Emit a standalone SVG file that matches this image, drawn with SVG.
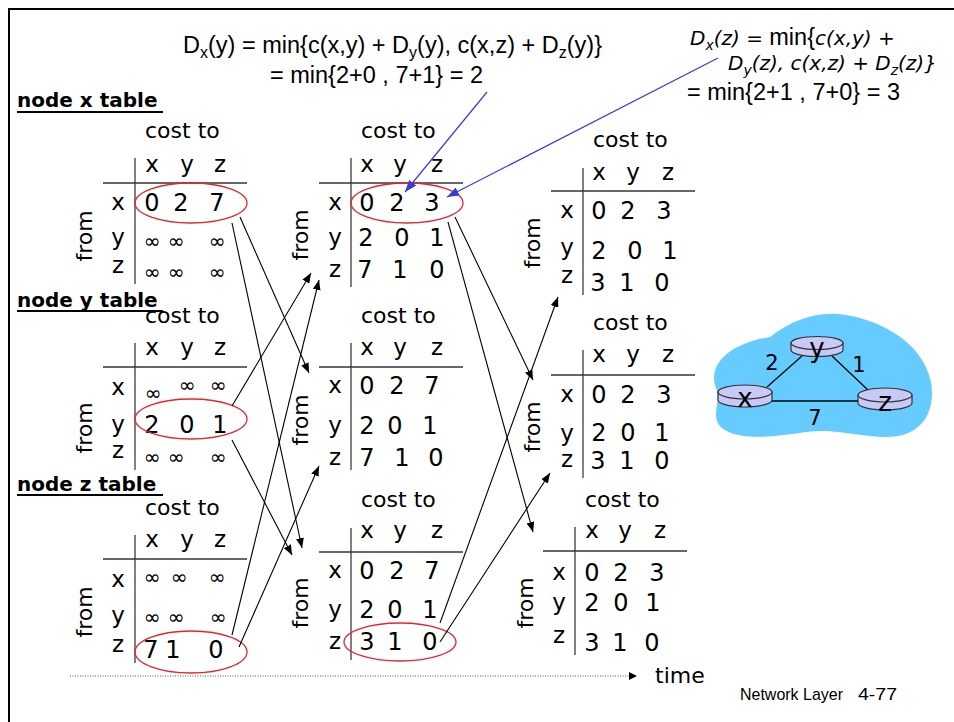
<svg xmlns="http://www.w3.org/2000/svg" width="954" height="722" viewBox="0 0 954 722">
<defs>
<style>
text{font-family:"DejaVu Sans",sans-serif;fill:#000}
.ttl{font-size:20px;font-weight:bold}
.ct{font-size:22px}
.h{font-size:23px;text-anchor:middle}
.v{font-size:24px;text-anchor:middle}
.inf{font-size:20px;text-anchor:middle}
.fr{font-size:22px;text-anchor:middle}
.ar{font-family:"Liberation Sans",Arial,sans-serif;font-size:23.5px}
.it{font-family:"DejaVu Sans",sans-serif;font-style:italic;font-size:20px}
.vl{stroke:#808080;stroke-width:2}
.hl{stroke:#333;stroke-width:1.3}
.ul{stroke:#000;stroke-width:2}
.el{fill:none;stroke:#E3262E;stroke-width:1.3}
.cn{stroke:#000;stroke-width:1.1;fill:none;marker-end:url(#ah)}
.bc{stroke:#3A3AD8;stroke-width:1.2;fill:none;marker-end:url(#bh)}
.rt{fill:#C9C9F7;stroke:#333;stroke-width:1.2}
.lk{stroke:#000;stroke-width:1.3}
.nl{font-size:26px;text-anchor:middle}
.wl{font-size:21px;text-anchor:middle}
.ft{font-family:"Liberation Sans",Arial,sans-serif;font-size:17px}
</style>
<marker id="ah" markerUnits="userSpaceOnUse" markerWidth="10" markerHeight="8" refX="10" refY="4" orient="auto"><path d="M0,0 L10,4 L0,8 z" fill="#000"/></marker>
<marker id="bh" markerUnits="userSpaceOnUse" markerWidth="12" markerHeight="9" refX="12" refY="4.5" orient="auto"><path d="M0,0 L12,4.5 L0,9 z" fill="#3A3AD8"/></marker>
</defs>
<rect width="954" height="722" fill="#fff"/>
<g id="frame">
<line x1="8" y1="9" x2="954" y2="9" stroke="#000" stroke-width="2"/>
<line x1="9" y1="8" x2="9" y2="722" stroke="#000" stroke-width="2"/>
</g>

<g id="formula-y">
<text class="ar" x="183" y="53">D<tspan font-size="16" dy="5">x</tspan><tspan dy="-5">(y) = min{c(x,y) + D</tspan><tspan font-size="16" dy="5">y</tspan><tspan dy="-5">(y), c(x,z) + D</tspan><tspan font-size="16" dy="5">z</tspan><tspan dy="-5">(y)}</tspan></text>
<text class="ar" x="270" y="83">= min{2+0 , 7+1} = 2</text>
</g>
<g id="formula-z">
<text class="it" x="690" y="45">D<tspan font-size="14" dy="5">x</tspan><tspan dy="-5">(z) = </tspan><tspan class="ar" font-style="normal" font-size="22">min{</tspan><tspan>c(x,y) +</tspan></text>
<text class="it" x="728" y="70" font-size="21">D<tspan font-size="14" dy="5">y</tspan><tspan dy="-5">(z), c(x,z) + D</tspan><tspan font-size="14" dy="5">z</tspan><tspan dy="-5">(z)}</tspan></text>
<text class="ar" x="687" y="100">= min{2+1 , 7+0} = 3</text>
</g>

<g id="node-x-table">
<text class="ttl" x="17" y="107">node x table</text>
<line class="ul" x1="17" y1="112" x2="163" y2="112"/>
<text class="ct" x="145" y="138">cost to</text>
<text class="h" x="152" y="172">x</text><text class="h" x="187" y="172">y</text><text class="h" x="220" y="172">z</text>
<line class="vl" x1="135" y1="158" x2="135" y2="284"/>
<line class="hl" x1="103" y1="183" x2="247" y2="183"/>
<text class="h" x="118" y="210">x</text><text class="h" x="118" y="245">y</text><text class="h" x="118" y="273">z</text>
<text class="v" x="152" y="211">0</text><text class="v" x="181" y="211">2</text><text class="v" x="217" y="211">7</text>
<text class="inf" x="152" y="248">∞</text><text class="inf" x="176" y="248">∞</text><text class="inf" x="217" y="248">∞</text>
<text class="inf" x="152" y="279">∞</text><text class="inf" x="176" y="279">∞</text><text class="inf" x="217" y="279">∞</text>
<text class="fr" transform="translate(92,236) rotate(-90)">from</text>
<ellipse class="el" cx="191" cy="203" rx="56" ry="20"/>
</g>

<g id="node-y-table">
<text class="ttl" x="17" y="307">node y table</text>
<line class="ul" x1="17" y1="311" x2="163" y2="311"/>
<text class="ct" x="145" y="323">cost to</text>
<text class="h" x="152" y="355">x</text><text class="h" x="187" y="355">y</text><text class="h" x="220" y="355">z</text>
<line class="vl" x1="135" y1="343" x2="135" y2="470"/>
<line class="hl" x1="103" y1="367" x2="247" y2="367"/>
<text class="h" x="118" y="395">x</text><text class="h" x="118" y="432">y</text><text class="h" x="118" y="458">z</text>
<text class="inf" x="153" y="400">∞</text><text class="inf" x="187" y="392">∞</text><text class="inf" x="218" y="392">∞</text>
<text class="v" x="152" y="433">2</text><text class="v" x="187" y="433">0</text><text class="v" x="220" y="433">1</text>
<text class="inf" x="152" y="464">∞</text><text class="inf" x="176" y="464">∞</text><text class="inf" x="218" y="464">∞</text>
<text class="fr" transform="translate(92,428) rotate(-90)">from</text>
<ellipse class="el" cx="191" cy="419" rx="56" ry="20"/>
</g>

<g id="node-z-table">
<text class="ttl" x="17" y="491">node z table</text>
<line class="ul" x1="17" y1="495" x2="163" y2="495"/>
<text class="ct" x="145" y="515">cost to</text>
<text class="h" x="152" y="547">x</text><text class="h" x="187" y="547">y</text><text class="h" x="220" y="547">z</text>
<line class="vl" x1="135" y1="535" x2="135" y2="663"/>
<line class="hl" x1="103" y1="559" x2="247" y2="559"/>
<text class="h" x="118" y="587">x</text><text class="h" x="118" y="623">y</text><text class="h" x="118" y="652">z</text>
<text class="inf" x="152" y="584">∞</text><text class="inf" x="179" y="584">∞</text><text class="inf" x="217" y="584">∞</text>
<text class="inf" x="152" y="624">∞</text><text class="inf" x="176" y="624">∞</text><text class="inf" x="218" y="624">∞</text>
<text class="v" x="151" y="658">7</text><text class="v" x="173" y="658">1</text><text class="v" x="216" y="658">0</text>
<text class="fr" transform="translate(92,612) rotate(-90)">from</text>
<ellipse class="el" cx="191" cy="652" rx="56" ry="21"/>
</g>

<g id="x-table-t1">
<text class="ct" x="361" y="138">cost to</text>
<text class="h" x="367" y="172">x</text><text class="h" x="400" y="172">y</text><text class="h" x="437" y="172">z</text>
<line class="vl" x1="351" y1="158" x2="351" y2="287"/>
<line class="hl" x1="319" y1="183" x2="463" y2="183"/>
<text class="h" x="335" y="210">x</text><text class="h" x="335" y="245">y</text><text class="h" x="335" y="277">z</text>
<text class="v" x="367" y="211">0</text><text class="v" x="397" y="211">2</text><text class="v" x="432" y="211">3</text>
<text class="v" x="366" y="246">2</text><text class="v" x="402" y="246">0</text><text class="v" x="437" y="246">1</text>
<text class="v" x="365" y="278">7</text><text class="v" x="400" y="278">1</text><text class="v" x="437" y="278">0</text>
<text class="fr" transform="translate(308,235) rotate(-90)">from</text>
<ellipse class="el" cx="407" cy="203" rx="56" ry="20"/>
</g>

<g id="y-table-t1">
<text class="ct" x="361" y="323">cost to</text>
<text class="h" x="367" y="355">x</text><text class="h" x="400" y="355">y</text><text class="h" x="437" y="355">z</text>
<line class="vl" x1="351" y1="343" x2="351" y2="470"/>
<line class="hl" x1="319" y1="367" x2="463" y2="367"/>
<text class="h" x="335" y="393">x</text><text class="h" x="335" y="433">y</text><text class="h" x="335" y="465">z</text>
<text class="v" x="367" y="394">0</text><text class="v" x="397" y="394">2</text><text class="v" x="432" y="394">7</text>
<text class="v" x="367" y="434">2</text><text class="v" x="395" y="434">0</text><text class="v" x="430" y="434">1</text>
<text class="v" x="367" y="466">7</text><text class="v" x="402" y="466">1</text><text class="v" x="436" y="466">0</text>
<text class="fr" transform="translate(308,420) rotate(-90)">from</text>
</g>

<g id="z-table-t1">
<text class="ct" x="361" y="507">cost to</text>
<text class="h" x="367" y="538">x</text><text class="h" x="400" y="538">y</text><text class="h" x="437" y="538">z</text>
<line class="vl" x1="351" y1="528" x2="351" y2="660"/>
<line class="hl" x1="319" y1="552" x2="463" y2="552"/>
<text class="h" x="335" y="578">x</text><text class="h" x="335" y="617">y</text><text class="h" x="335" y="649">z</text>
<text class="v" x="367" y="579">0</text><text class="v" x="397" y="579">2</text><text class="v" x="432" y="579">7</text>
<text class="v" x="367" y="618">2</text><text class="v" x="395" y="618">0</text><text class="v" x="430" y="618">1</text>
<text class="v" x="367" y="650">3</text><text class="v" x="395" y="650">1</text><text class="v" x="430" y="650">0</text>
<text class="fr" transform="translate(308,603) rotate(-90)">from</text>
<ellipse class="el" cx="400" cy="642" rx="56" ry="19"/>
</g>

<g id="x-table-t2">
<text class="ct" x="593" y="147">cost to</text>
<text class="h" x="599" y="180">x</text><text class="h" x="633" y="180">y</text><text class="h" x="668" y="180">z</text>
<line class="vl" x1="583" y1="168" x2="583" y2="295"/>
<line class="hl" x1="551" y1="191" x2="695" y2="191"/>
<text class="h" x="567" y="218">x</text><text class="h" x="567" y="255">y</text><text class="h" x="567" y="283">z</text>
<text class="v" x="599" y="219">0</text><text class="v" x="628" y="219">2</text><text class="v" x="664" y="219">3</text>
<text class="v" x="599" y="259">2</text><text class="v" x="635" y="259">0</text><text class="v" x="670" y="259">1</text>
<text class="v" x="598" y="291">3</text><text class="v" x="627" y="291">1</text><text class="v" x="662" y="291">0</text>
<text class="fr" transform="translate(540,243) rotate(-90)">from</text>
</g>

<g id="y-table-t2">
<text class="ct" x="593" y="330">cost to</text>
<text class="h" x="599" y="362">x</text><text class="h" x="633" y="362">y</text><text class="h" x="668" y="362">z</text>
<line class="vl" x1="583" y1="350" x2="583" y2="478"/>
<line class="hl" x1="551" y1="375" x2="695" y2="375"/>
<text class="h" x="567" y="402">x</text><text class="h" x="567" y="441">y</text><text class="h" x="567" y="467">z</text>
<text class="v" x="599" y="403">0</text><text class="v" x="628" y="403">2</text><text class="v" x="664" y="403">3</text>
<text class="v" x="599" y="441">2</text><text class="v" x="628" y="441">0</text><text class="v" x="662" y="441">1</text>
<text class="v" x="598" y="469">3</text><text class="v" x="627" y="469">1</text><text class="v" x="662" y="469">0</text>
<text class="fr" transform="translate(540,427) rotate(-90)">from</text>
</g>

<g id="z-table-t2">
<text class="ct" x="585" y="507">cost to</text>
<text class="h" x="592" y="538">x</text><text class="h" x="625" y="538">y</text><text class="h" x="660" y="538">z</text>
<line class="vl" x1="575" y1="527" x2="575" y2="655"/>
<line class="hl" x1="543" y1="551" x2="687" y2="551"/>
<text class="h" x="559" y="580">x</text><text class="h" x="559" y="610">y</text><text class="h" x="559" y="643">z</text>
<text class="v" x="592" y="581">0</text><text class="v" x="621" y="581">2</text><text class="v" x="657" y="581">3</text>
<text class="v" x="592" y="611">2</text><text class="v" x="621" y="611">0</text><text class="v" x="653" y="611">1</text>
<text class="v" x="592" y="651">3</text><text class="v" x="620" y="651">1</text><text class="v" x="652" y="651">0</text>
<text class="fr" transform="translate(533,603) rotate(-90)">from</text>
</g>

<g id="connectors">
<line class="cn" x1="240" y1="217" x2="309" y2="373"/>
<line class="cn" x1="232" y1="223" x2="302" y2="548"/>
<line class="cn" x1="232" y1="406" x2="311" y2="273"/>
<line class="cn" x1="232" y1="440" x2="292" y2="555"/>
<line class="cn" x1="232" y1="635" x2="319" y2="280"/>
<line class="cn" x1="239" y1="647" x2="319" y2="466"/>
<line class="cn" x1="455" y1="217" x2="533" y2="380"/>
<line class="cn" x1="448" y1="222" x2="533" y2="532"/>
<line class="cn" x1="440" y1="623" x2="558" y2="297"/>
<line class="cn" x1="440" y1="642" x2="550" y2="473"/>
<line class="bc" x1="487" y1="92" x2="405" y2="192"/>
<line class="bc" x1="718" y1="58" x2="447" y2="197"/>
</g>

<g id="time-axis">
<line x1="70" y1="676" x2="629" y2="676" stroke="#555" stroke-width="1" stroke-dasharray="1 1.5"/>
<path d="M629,672 L637,676 L629,680 z" fill="#000"/>
<text x="655" y="683" font-size="22">time</text>
</g>

<g id="network">
<path d="M716,388 C706,362 735,342 770,337 C790,322 812,312 838,314 C872,317 922,338 931,382 C936,412 922,437 886,437 C858,437 836,428 806,432 C774,437 738,441 722,428 C709,417 722,402 716,388 Z" fill="#66CCFF"/>
<line class="lk" x1="767" y1="387" x2="802" y2="356"/>
<line class="lk" x1="832" y1="356" x2="868" y2="390"/>
<line class="lk" x1="770" y1="401" x2="862" y2="401"/>
<g id="router-y">
<path class="rt" d="M791,343 L791,350 A26 6.5 0 0 0 843,350 L843,343 Z"/>
<ellipse class="rt" cx="817" cy="343" rx="26" ry="6.5"/>
<text class="nl" x="817" y="357">y</text>
</g>
<g id="router-x">
<path class="rt" d="M718,392 L718,400 A27 7 0 0 0 772,400 L772,392 Z"/>
<ellipse class="rt" cx="745" cy="392" rx="27" ry="7"/>
<text class="nl" x="745" y="407">x</text>
</g>
<g id="router-z">
<path class="rt" d="M858,395 L858,403 A27 7 0 0 0 912,403 L912,395 Z"/>
<ellipse class="rt" cx="885" cy="395" rx="27" ry="7"/>
<text class="nl" x="885" y="411" font-size="28">z</text>
</g>
<text class="wl" x="772" y="370">2</text>
<text class="wl" x="859" y="372">1</text>
<text class="wl" x="815" y="425">7</text>
</g>

<g id="footer">
<text class="ft" x="740" y="700" textLength="103" lengthAdjust="spacingAndGlyphs">Network Layer</text>
<text class="ft" x="858" y="700" textLength="39" lengthAdjust="spacingAndGlyphs">4-77</text>
</g>
</svg>
